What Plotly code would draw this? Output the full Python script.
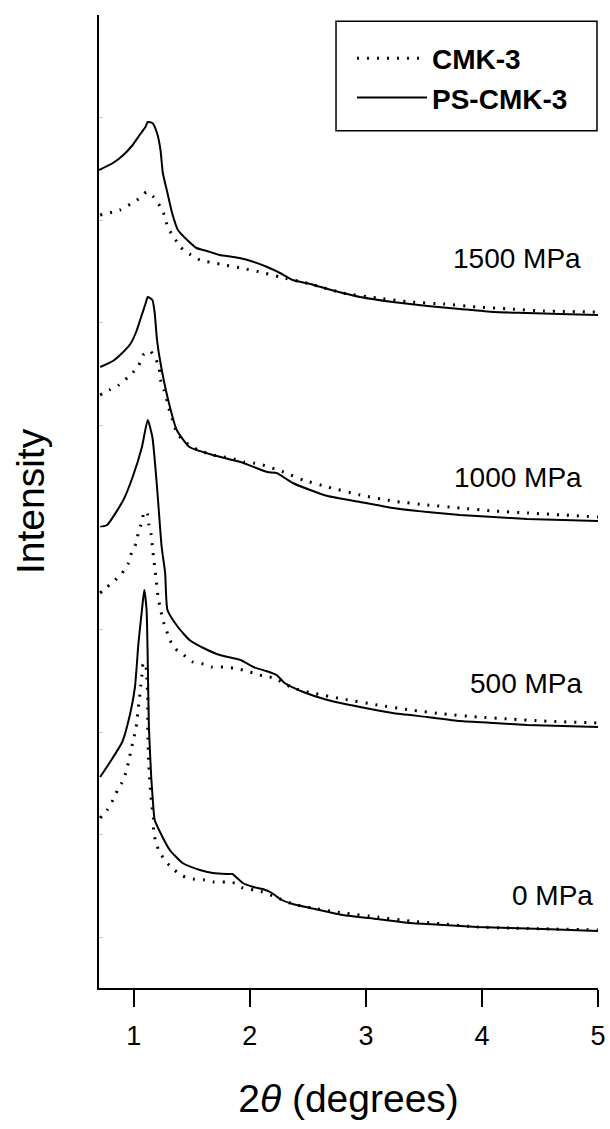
import plotly.graph_objects as go

# ---------------- data (2theta in degrees, intensity in arbitrary units, curves offset) ----------------
x_cmk_1500 = [0.71, 0.88, 1.04, 1.11, 1.17, 1.23, 1.27, 1.29, 1.35, 1.40, 1.48, 1.57, 1.74, 1.92, 2.09,
              2.26, 2.52, 2.80, 3.10, 3.38, 3.67, 3.96, 4.24, 4.53, 5.00]
y_cmk_1500 = [773, 778, 789, 796, 791, 781, 771, 761, 750, 741, 734, 728, 724, 720, 716,
              711, 704, 695, 690, 686, 684, 681, 679, 677, 676]

x_ps_1500 = [0.70, 0.82, 0.91, 0.99, 1.05, 1.10, 1.12, 1.16, 1.20, 1.23, 1.25, 1.29, 1.33, 1.38, 1.46,
             1.54, 1.63, 1.74, 1.86, 1.98, 2.15, 2.26, 2.37, 2.52, 2.67, 2.80, 2.95, 3.23, 3.53, 3.81,
             4.10, 4.39, 4.67, 5.00]
y_ps_1500 = [818, 825, 833, 843, 853, 861, 866, 865, 855, 838, 815, 795, 775, 758, 748,
             740, 737, 733, 731, 728, 721, 715, 708, 704, 699, 695, 691, 686, 682, 679,
             676, 675, 674, 673]

x_cmk_1000 = [0.71, 0.79, 0.87, 0.97, 1.04, 1.08, 1.14, 1.19, 1.22, 1.23, 1.26, 1.29, 1.31, 1.34, 1.37,
              1.44, 1.52, 1.60, 1.68, 1.78, 1.86, 1.95, 2.03, 2.11, 2.29, 2.46, 2.67, 2.95, 3.23, 3.53,
              3.81, 4.10, 4.39, 5.00]
y_cmk_1000 = [593, 598, 603, 613, 622, 633, 637, 629, 619, 608, 598, 586, 576, 566, 555,
              546, 540, 536, 533, 531, 529, 526, 525, 523, 516, 508, 501, 493, 487, 483,
              480, 477, 475, 471]

x_ps_1000 = [0.71, 0.82, 0.90, 0.97, 1.02, 1.06, 1.10, 1.12, 1.16, 1.18, 1.20, 1.23, 1.29, 1.37, 1.48,
             1.68, 1.92, 2.15, 2.23, 2.37, 2.52, 2.67, 2.95, 3.23, 3.53, 3.81, 4.10, 4.39, 5.00]
y_ps_1000 = [621, 627, 635, 644, 656, 670, 684, 691, 688, 675, 648, 625, 591, 558, 541,
             533, 526, 516, 515, 505, 498, 492, 486, 480, 476, 473, 471, 469, 467]

x_cmk_500 = [0.71, 0.77, 0.84, 0.90, 0.95, 0.98, 1.02, 1.04, 1.07, 1.09, 1.12, 1.13, 1.15, 1.16, 1.17,
             1.18, 1.19, 1.21, 1.23, 1.25, 1.28, 1.31, 1.36, 1.43, 1.51, 1.60, 1.67, 1.77, 1.86, 1.94,
             2.03, 2.11, 2.21, 2.37, 2.54, 2.80, 3.10, 3.38, 3.67, 3.96, 4.24, 4.53, 5.00]
y_cmk_500 = [395, 401, 408, 415, 424, 435, 445, 456, 466, 477, 473, 463, 453, 441, 431,
             421, 411, 390, 379, 368, 358, 348, 339, 333, 326, 324, 321, 321, 320, 318,
             315, 312, 310, 300, 295, 289, 283, 278, 274, 271, 269, 267, 265]

x_ps_500 = [0.71, 0.77, 0.91, 0.99, 1.07, 1.12, 1.16, 1.20, 1.24, 1.27, 1.29, 1.38, 1.48, 1.60, 1.74,
            1.92, 2.03, 2.14, 2.23, 2.30, 2.46, 2.67, 2.95, 3.23, 3.53, 3.81, 4.10, 4.39, 5.00]
y_ps_500 = [461, 463, 488, 511, 541, 568, 551, 501, 441, 415, 378, 361, 348, 340, 333,
            328, 321, 317, 313, 305, 296, 288, 281, 275, 271, 267, 265, 263, 261]

x_cmk_0 = [0.71, 0.77, 0.82, 0.86, 0.91, 0.94, 0.96, 0.98, 1.00, 1.02, 1.03, 1.04, 1.05, 1.06, 1.07,
           1.08, 1.10, 1.11, 1.12, 1.12, 1.13, 1.15, 1.17, 1.17, 1.19, 1.22, 1.28, 1.35, 1.42, 1.51,
           1.61, 1.69, 1.79, 1.87, 1.94, 2.04, 2.11, 2.20, 2.37, 2.54, 2.80, 3.10, 3.38, 3.67, 3.96,
           4.24, 5.00]
y_cmk_0 = [170, 178, 188, 198, 208, 219, 229, 240, 250, 261, 271, 281, 291, 302, 313,
           324, 325, 315, 288, 258, 221, 188, 168, 156, 146, 136, 126, 118, 112, 109,
           108, 106, 106, 105, 100, 98, 96, 92, 84, 80, 75, 71, 67, 64, 61,
           60, 58]

x_ps_0 = [0.71, 0.79, 0.90, 0.97, 1.01, 1.04, 1.07, 1.09, 1.11, 1.12, 1.13, 1.15, 1.17, 1.18, 1.23,
          1.31, 1.42, 1.57, 1.68, 1.80, 1.85, 1.89, 1.94, 2.03, 2.11, 2.19, 2.26, 2.37, 2.52, 2.80,
          3.10, 3.38, 3.67, 3.96, 4.24, 4.53, 5.00]
y_ps_0 = [211, 225, 246, 275, 301, 345, 378, 398, 378, 328, 261, 211, 178, 168, 155,
          138, 125, 118, 115, 114, 114, 110, 105, 101, 99, 95, 89, 84, 80, 73,
          69, 65, 63, 61, 60, 59, 57]

pressure_labels = ["1500 MPa", "1000 MPa", "500 MPa", "0 MPa"]
label_x = [4.87, 4.88, 4.88, 4.97]
label_y = [730, 511, 305, 93]

# ---------------- figure ----------------
FONT = "Liberation Sans, Arial, sans-serif"
fig = go.Figure()

dot_style = dict(color="black", width=3, dash="2px,8px", shape="spline", smoothing=0.5)
solid_style = dict(color="black", width=2, shape="spline", smoothing=0.5)

series = [
    (x_cmk_1500, y_cmk_1500, x_ps_1500, y_ps_1500),
    (x_cmk_1000, y_cmk_1000, x_ps_1000, y_ps_1000),
    (x_cmk_500, y_cmk_500, x_ps_500, y_ps_500),
    (x_cmk_0, y_cmk_0, x_ps_0, y_ps_0),
]
for i, (xc, yc, xp, yp) in enumerate(series):
    fig.add_trace(go.Scatter(x=xc, y=yc, mode="lines", line=dot_style, name="CMK-3",
                             legendgroup="cmk", showlegend=(i == 0)))
    fig.add_trace(go.Scatter(x=xp, y=yp, mode="lines", line=solid_style, name="PS-CMK-3",
                             legendgroup="ps", showlegend=(i == 0)))

for t, lx, ly in zip(pressure_labels, label_x, label_y):
    fig.add_annotation(x=lx, y=ly, xref="x", yref="y", text=t, showarrow=False,
                       xanchor="right", yanchor="middle",
                       font=dict(family=FONT, size=28, color="black"))

# legend frame (the legend itself is drawn by plotly inside it)
fig.add_shape(type="rect", xref="paper", yref="paper", x0=0.475, x1=0.998, y0=0.881, y1=0.9935,
              line=dict(color="black", width=1.5), fillcolor="white", layer="above")

fig.update_layout(
    width=610, height=1129,
    margin=dict(l=99, r=12, t=15, b=141),
    paper_bgcolor="white", plot_bgcolor="white",
    font=dict(family=FONT, color="black"),
    legend=dict(
        x=0.507, y=0.981, xanchor="left", yanchor="top",
        bgcolor="rgba(0,0,0,0)", borderwidth=0,
        font=dict(family=FONT, size=28, color="black", weight="bold"),
        itemwidth=70, traceorder="grouped", tracegroupgap=0,
    ),
    xaxis=dict(
        range=[0.7, 5], tickvals=[1, 2, 3, 4, 5], automargin=False,
        showgrid=False, zeroline=False,
        showline=True, linecolor="black", linewidth=2,
        ticks="outside", ticklen=17, tickwidth=2, tickcolor="black",
        tickfont=dict(family=FONT, size=27, color="black"),
        ticklabelstandoff=6,
        title=dict(text="2<i>θ</i> (degrees)", font=dict(family=FONT, size=39, color="black"),
                   standoff=34),
    ),
    yaxis=dict(
        range=[0, 973], tick0=51, dtick=102.4, automargin=False,
        showgrid=False, zeroline=False, showticklabels=False,
        showline=True, linecolor="black", linewidth=2,
        ticks="inside", ticklen=4, tickwidth=1, tickcolor="#c8c8c8",
        title=dict(text="Intensity", font=dict(family=FONT, size=39, color="black"),
                   standoff=40),
    ),
)

fig.write_html("out.html")
